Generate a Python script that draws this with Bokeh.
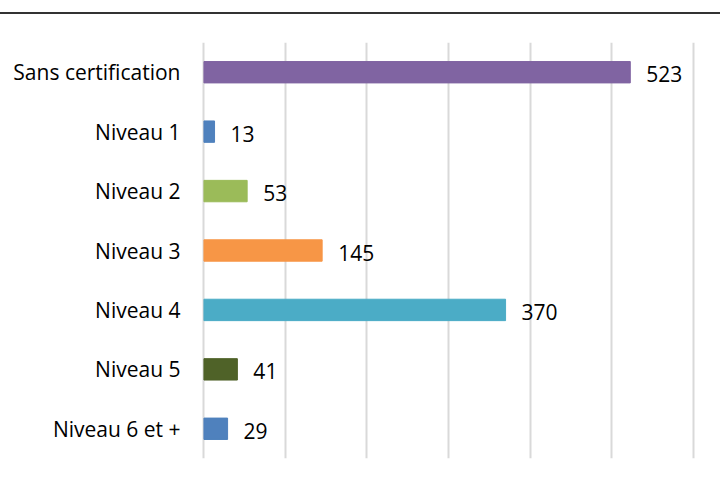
from bokeh.plotting import figure
from bokeh.models import Range1d, FactorRange, ColumnDataSource, Div
from bokeh.layouts import column
from bokeh.embed import file_html
from bokeh.resources import INLINE
from bokeh.core.properties import value

categories = ["Sans certification", "Niveau 1", "Niveau 2", "Niveau 3",
              "Niveau 4", "Niveau 5", "Niveau 6 et +"]
values = [523, 13, 53, 145, 370, 41, 29]
colors = ["#8064A2", "#4F81BD", "#9BBB59", "#F79646", "#4BACC6", "#4F6228", "#4F81BD"]
x_ticks = [0, 100, 200, 300, 400, 500, 600]

FONT = "Open Sans"

src = ColumnDataSource(dict(cat=categories, val=values, col=colors,
                            lab=[str(v) for v in values]))

p = figure(y_range=FactorRange(*categories[::-1], range_padding=0),
           x_range=Range1d(-3, 603),
           width=720, height=466, frame_width=494, frame_height=416,
           output_backend="svg", toolbar_location=None,
           min_border_left=201, min_border_right=25,
           min_border_top=28, min_border_bottom=22)
p.outline_line_color = None
p.background_fill_color = "white"
p.border_fill_color = "white"

p.hbar(y="cat", left=0, right="val", height=0.36, color="col", source=src)
p.text(x="val", y="cat", text="lab", source=src, x_offset=16, y_offset=2,
       text_baseline="middle", text_align="left", text_font=value(FONT),
       text_font_size="21px", text_color="#000000")

p.xaxis.visible = False
p.xaxis.ticker = x_ticks
p.xgrid.ticker = x_ticks
p.xgrid.grid_line_color = "#d9d9d9"
p.xgrid.grid_line_width = 2
p.ygrid.grid_line_color = None

p.yaxis.axis_line_color = None
p.yaxis.major_tick_line_color = None
p.yaxis.minor_tick_line_color = None
p.yaxis.major_label_text_font = FONT
p.yaxis.major_label_text_font_size = "21px"
p.yaxis.major_label_text_color = "#000000"
p.yaxis.major_label_standoff = 15

topline = Div(text="", width=720, height=2, margin=(12, 0, 0, 0),
              styles={"background-color": "#333333"})

layout = column(topline, p, spacing=0)
open("out.html", "w").write(file_html(layout, INLINE))
